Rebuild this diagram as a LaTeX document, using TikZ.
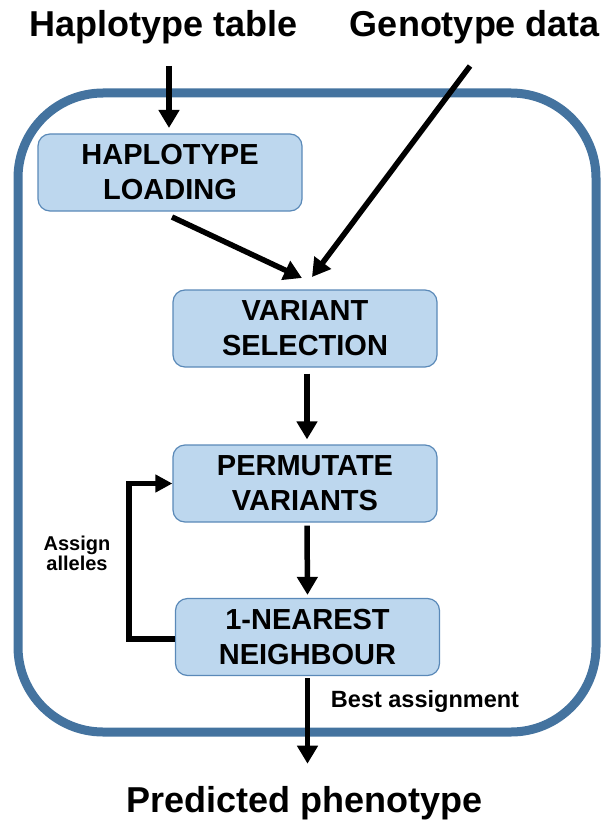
\documentclass[tikz,border=0pt]{standalone}
\usepackage{fontspec}
\setmainfont{Liberation Sans}
\usetikzlibrary{arrows.meta}
\definecolor{frameblue}{HTML}{44739F}
\definecolor{boxfill}{HTML}{BDD7EE}
\definecolor{boxline}{HTML}{5A89B8}
\tikzset{
  stepbox/.style={draw=boxline, line width=1.2pt, fill=boxfill, rounded corners=12pt,
    minimum width=264pt, minimum height=77pt, align=center, inner sep=0pt,
    font=\bfseries\fontsize{29}{35}\selectfont},
  arr/.style={line width=5.5pt, -{Triangle[width=20pt,length=18pt]}},
  title/.style={font=\bfseries\fontsize{36}{40}\selectfont, anchor=base, inner sep=0pt},
  note/.style={font=\bfseries, align=center, inner sep=0pt}
}
\begin{document}
\begin{tikzpicture}[x=1pt,y=-1pt]
  \useasboundingbox (0,0) rectangle (602,821);
  % outer frame of the pipeline
  \draw[frameblue, line width=9pt, rounded corners=85pt] (18,93) rectangle (596,732);

  % input / output labels
  \node[title] (ht) at (164,37) {Haplotype table};
  \node[title] (gd) at (475,37) {Genotype data};
  \node[title] (pp) at (304.5,812) {Predicted phenotype};

  % processing steps
  \node[stepbox] (hl) at (170,172.5) {HAPLOTYPE\\LOADING};
  \node[stepbox] (vs) at (305,328.5) {VARIANT\\SELECTION};
  \node[stepbox] (pv) at (305,483.5) {PERMUTATE\\VARIANTS};
  \node[stepbox] (nn) at (307.5,637) {1-NEAREST\\NEIGHBOUR};

  % arrow end points
  \coordinate (htout) at (169,66);
  \coordinate (hlin) at (169,128);
  \coordinate (gdout) at (470,66);
  \coordinate (vsinA) at (312,277);
  \coordinate (hlout) at (172,217);
  \coordinate (vsinB) at (302,278);

  \draw[arr] (htout) -- (hlin);
  \draw[arr] (gdout) -- (vsinA);
  \draw[arr] (hlout) -- (vsinB);
  \draw[arr] ([xshift=2pt,yshift=-6pt]vs.south) -- ([xshift=2pt,yshift=5pt]pv.north);
  \draw[arr] ([xshift=2pt,yshift=-3pt]pv.south) -- ([yshift=3pt]nn.north);
  \draw[arr] ([yshift=-2pt]nn.south) -- ([yshift=22pt]nn.south |- pp.north);

  % feedback loop
  \draw[line width=5.5pt, -{Triangle[width=17pt,length=17pt]}]
    ([yshift=-2pt]nn.west) -- ++(-46,0) |- (pv.west);

  \node[note, font=\bfseries\fontsize{20}{17}\selectfont] (aa) at (77,553) {Assign\\alleles};
  \node[note, font=\bfseries\fontsize{23.5}{26}\selectfont] (ba) at (425,701) {Best assignment};
\end{tikzpicture}
\end{document}
